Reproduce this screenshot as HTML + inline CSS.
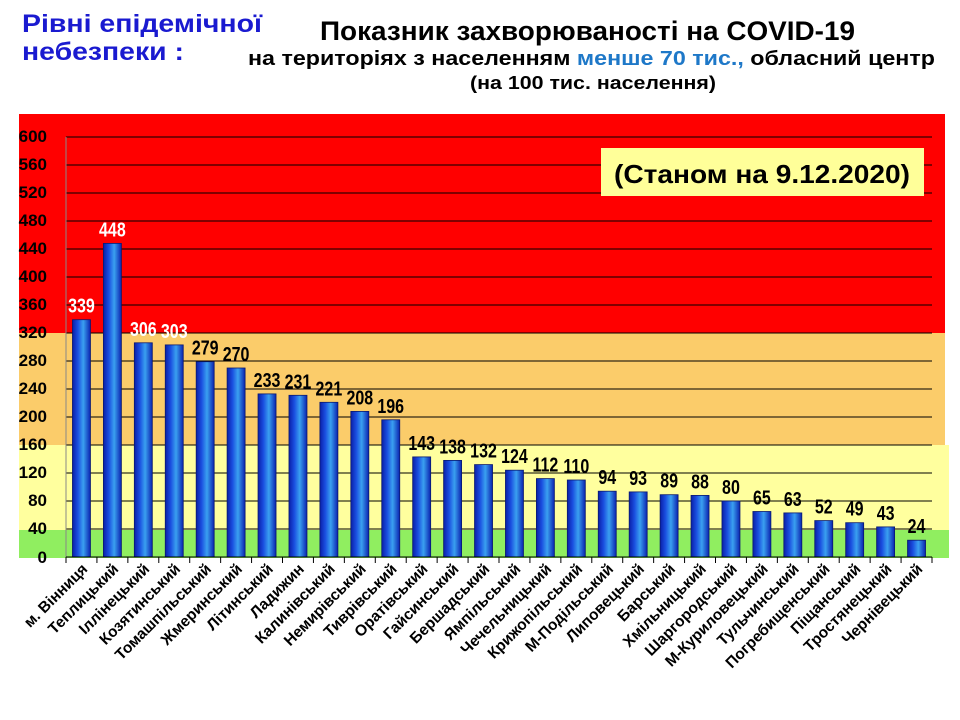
<!DOCTYPE html>
<html><head><meta charset="utf-8"><style>
body{margin:0;background:#fff}
svg{display:block}
text{font-family:"Liberation Sans",sans-serif;font-weight:bold}
</style></head><body>
<svg width="960" height="720" viewBox="0 0 960 720" xmlns="http://www.w3.org/2000/svg">
<defs>
<linearGradient id="bg" x1="0" x2="1" y1="0" y2="0">
<stop offset="0" stop-color="#0a1fa8"/><stop offset="0.3" stop-color="#1a4fe0"/><stop offset="0.6" stop-color="#3aa0f0"/><stop offset="1" stop-color="#0a22b0"/>
</linearGradient>
</defs>
<text x="22" y="32" font-size="25" fill="#1a1ad0" textLength="240" lengthAdjust="spacingAndGlyphs">Рівні епідемічної</text>
<text x="22" y="60" font-size="25" fill="#1a1ad0" textLength="162" lengthAdjust="spacingAndGlyphs">небезпеки :</text>
<text x="320" y="40" font-size="27" fill="#000" textLength="535" lengthAdjust="spacingAndGlyphs">Показник захворюваності на COVID-19</text>
<text x="248" y="65" font-size="20" fill="#000" textLength="687" lengthAdjust="spacingAndGlyphs">на територіях з населенням <tspan fill="#1e78c8">менше 70 тис.,</tspan> обласний центр</text>
<text x="470" y="89" font-size="18" fill="#000" textLength="246" lengthAdjust="spacingAndGlyphs">(на 100  тис. населення)</text>
<rect x="19" y="114" width="926" height="219" fill="#ff0000"/>
<rect x="19" y="333" width="926" height="112" fill="#fbcc6a"/>
<rect x="19" y="445" width="930" height="85" fill="#ffff9e"/>
<rect x="19" y="530" width="930" height="28" fill="#90ee60"/>
<g stroke="#000" stroke-width="1">
<line x1="66" x2="932" y1="137" y2="137"/><line x1="66" x2="932" y1="165" y2="165"/><line x1="66" x2="932" y1="193" y2="193"/><line x1="66" x2="932" y1="221" y2="221"/><line x1="66" x2="932" y1="249" y2="249"/><line x1="66" x2="932" y1="277" y2="277"/><line x1="66" x2="932" y1="305" y2="305"/><line x1="66" x2="932" y1="333" y2="333"/><line x1="66" x2="932" y1="361" y2="361"/><line x1="66" x2="932" y1="389" y2="389"/><line x1="66" x2="932" y1="417" y2="417"/><line x1="66" x2="932" y1="445" y2="445"/><line x1="66" x2="932" y1="473" y2="473"/><line x1="66" x2="932" y1="501" y2="501"/><line x1="66" x2="932" y1="529" y2="529"/>
</g>
<rect x="601" y="148" width="323" height="48" fill="#ffff99"/>
<text x="762" y="183" font-size="26" text-anchor="middle" fill="#000" textLength="296" lengthAdjust="spacingAndGlyphs">(Станом на 9.12.2020)</text>
<g font-size="17" text-anchor="end" fill="#000">
<text x="47" y="142">600</text><text x="47" y="170">560</text><text x="47" y="198">520</text><text x="47" y="226">480</text><text x="47" y="254">440</text><text x="47" y="282">400</text><text x="47" y="310">360</text><text x="47" y="338">320</text><text x="47" y="366">280</text><text x="47" y="394">240</text><text x="47" y="422">200</text><text x="47" y="450">160</text><text x="47" y="478">120</text><text x="47" y="506">80</text><text x="47" y="534">40</text><text x="47" y="563">0</text>
</g>
<g id="bars"></g>
<line x1="66" x2="66" y1="137" y2="557" stroke="#888"/>
<line x1="66" x2="932" y1="557" y2="557" stroke="#000"/>
<g id="ticks"></g>
<script>
var names=["м. Вінниця","Теплицький","Іллінецький","Козятинський","Томашпільський","Жмеринський","Літинський","Ладижин","Калинівський","Немирівський","Тиврівський","Оратівський","Гайсинський","Бершадський","Ямпільський","Чечельницький","Крижопільський","М-Подільський","Липовецький","Барський","Хмільницький","Шаргородський","М-Куриловецький","Тульчинський","Погребищенський","Піщанський","Тростянецький","Чернівецький"];
var v=[339,448,306,303,279,270,233,231,221,208,196,143,138,132,124,112,110,94,93,89,88,80,65,63,52,49,43,24];
var ns="http://www.w3.org/2000/svg",b=document.getElementById("bars"),t=document.getElementById("ticks");
var cw=866/28,s=0.7;
function el(n,a,p,txt){var e=document.createElementNS(ns,n);for(var k in a)e.setAttribute(k,a[k]);if(txt!==undefined)e.textContent=txt;p.appendChild(e);return e;}
for(var i=0;i<28;i++){
var cx=66+cw*(i+0.5),h=v[i]*s,y=557-h;
el("rect",{x:cx-9,y:y,width:18,height:h,fill:"url(#bg)",stroke:"#0a1a70","stroke-width":"0.8"},b);
el("text",{x:cx,y:y-7,"font-size":"20","text-anchor":"middle",fill:v[i]>300?"#fff":"#000",transform:"translate("+cx+" 0) scale(0.8 1) translate("+(-cx)+" 0)"},b,v[i]);
el("line",{x1:66+cw*i,x2:66+cw*i,y1:557,y2:563,stroke:"#000"},t);
var lx=cx+7,ly=570;
el("text",{x:lx,y:ly,"font-size":"15.5","text-anchor":"end",fill:"#000",transform:"rotate(-45 "+lx+" "+ly+")"},t,names[i]);
}
el("line",{x1:932,x2:932,y1:557,y2:563,stroke:"#000"},t);
</script>
</svg>
</body></html>
